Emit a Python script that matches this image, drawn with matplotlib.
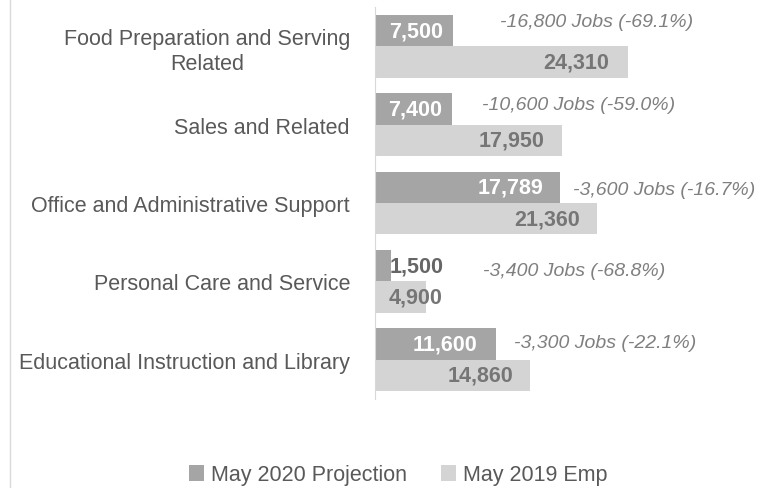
import matplotlib
matplotlib.use("Agg")
import matplotlib.pyplot as plt
from matplotlib.lines import Line2D

plt.rcParams["font.family"] = ["Liberation Sans", "DejaVu Sans"]

categories = [
    "Food Preparation and Serving\nRelated",
    "Sales and Related",
    "Office and Administrative Support",
    "Personal Care and Service",
    "Educational Instruction and Library",
]
may_2020_projection = [7500, 7400, 17789, 1500, 11600]
may_2019_emp = [24310, 17950, 21360, 4900, 14860]
change_labels = [
    "-16,800 Jobs (-69.1%)",
    "-10,600 Jobs (-59.0%)",
    "-3,600 Jobs (-16.7%)",
    "-3,400 Jobs (-68.8%)",
    "-3,300 Jobs (-22.1%)",
]

# where the change notes sit (data x, offset from category centre)
note_x = [12000, 10300, 19000, 10400, 13350]
note_dy = [-0.32, -0.26, -0.17, -0.14, -0.22]
# right edge of each value label relative to bar end, in pixels
dark_pad = [-10, -10, -17, 53, -18]
light_pad = [-19, -17, -17, 17, -16]

DARK = "#a5a5a5"
LIGHT = "#d4d4d4"
TEXT = "#595959"
PX = 0.72  # points per pixel at 100 dpi

fig = plt.figure(figsize=(7.74, 4.89), dpi=100)
ax = fig.add_axes([375 / 774, 89 / 489, 389 / 774, 392 / 489])

y = list(range(len(categories)))
h = 0.4
ax.barh([i - h / 2 for i in y], may_2020_projection, height=h, color=DARK, label="May 2020 Projection")
ax.barh([i + h / 2 for i in y], may_2019_emp, height=h, color=LIGHT, label="May 2019 Emp")

ax.set_xlim(0, 37400)
ax.set_ylim(len(categories) - 0.5, -0.5)

for i in y:
    v = may_2020_projection[i]
    ax.annotate(f"{v:,}", (v, i - h / 2), xytext=(dark_pad[i] * PX, 0), textcoords="offset points",
                ha="right", va="center", color="white" if dark_pad[i] < 0 else "#666666",
                fontsize=15.5, fontweight="bold")
    w = may_2019_emp[i]
    ax.annotate(f"{w:,}", (w, i + h / 2), xytext=(light_pad[i] * PX, 0), textcoords="offset points",
                ha="right", va="center", color="#767676", fontsize=15.5, fontweight="bold")
    ax.text(note_x[i], i + note_dy[i], change_labels[i], ha="left", va="center",
            color="#7f7f7f", fontsize=14, style="italic")

ax.set_yticks(y)
ax.set_yticklabels(categories, fontsize=15.5, color=TEXT, ha="right", multialignment="center",
                   linespacing=1.3)
ax.tick_params(axis="y", length=0, pad=18)
ax.set_xticks([])
for side in ["top", "right", "bottom"]:
    ax.spines[side].set_visible(False)
ax.spines["left"].set_color("#d9d9d9")

fig.legend(loc="center", bbox_to_anchor=(398 / 774, 1 - 476 / 489), ncol=2, frameon=False,
           fontsize=15.5, handlelength=0.7, handleheight=0.7, handletextpad=0.3, columnspacing=1.6,
           labelcolor=TEXT)

fig.add_artist(Line2D([10 / 774, 10 / 774], [0, 1], transform=fig.transFigure, color="#d9d9d9", lw=1))

fig.savefig("out.png", dpi=100)
